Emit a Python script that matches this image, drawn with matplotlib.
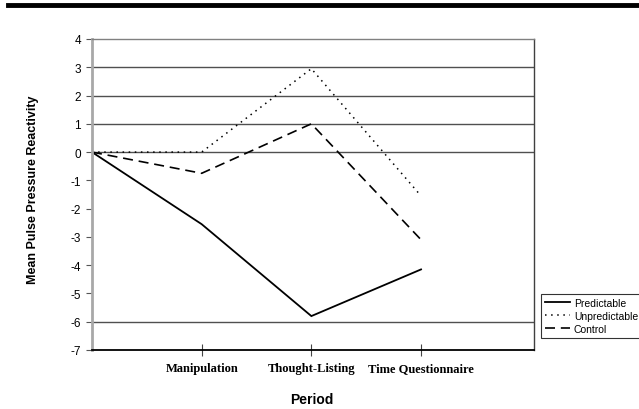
import matplotlib.pyplot as plt
from matplotlib.lines import Line2D
import numpy as np

# data
periods = ['', 'Manipulation', 'Thought-Listing', 'Time Questionnaire']
predictable = [0, -2.55, -5.8, -4.15]
unpredictable = [0, 0, 2.95, -1.55]
control = [0, -0.75, 1.0, -3.1]
yticks = [4, 3, 2, 1, 0, -1, -2, -3, -4, -5, -6, -7]
gridvals = [3, 2, 1, 0, -6]   # only these gridlines show in the original

W, H = 639, 410
fig = plt.figure(figsize=(W/100, H/100), dpi=100)
ax = fig.add_axes([92/W, 1-351/H, (534-92)/W, (351-40)/H])

x = np.arange(len(periods))
ax.plot(x, predictable, color='black', lw=1.3, ls='-', label='Predictable',
        solid_joinstyle='miter')
ax.plot(x, unpredictable, color='black', lw=1.1, ls=(0, (1, 3)), label='Unpredictable')
ax.plot(x, control, color='black', lw=1.2, ls=(0, (6, 3.5)), label='Control')

for g in gridvals:
    ax.axhline(g, color='#505050', lw=1, zorder=0)

ax.set_xlim(0, 4.03)
ax.set_ylim(-7, 4)
ax.set_yticks(yticks)
ax.set_yticklabels([str(v) for v in yticks], family='Liberation Sans', fontsize=8.5)
ax.set_xticks(x[1:])
ax.set_xticklabels(periods[1:], family='Liberation Serif', fontweight='bold', fontsize=9)
ax.tick_params(axis='x', direction='inout', length=8, width=0.8, color='#444', pad=5)
ax.tick_params(axis='y', direction='out', length=4, width=0.8, color='#555', pad=4)

ax.spines['left'].set_color('#a8a8a8')
ax.spines['left'].set_linewidth(2)
ax.spines['top'].set_color('#808080')
ax.spines['top'].set_linewidth(1)
ax.spines['right'].set_color('#404040')
ax.spines['right'].set_linewidth(1)
ax.spines['bottom'].set_color('black')
ax.spines['bottom'].set_linewidth(1.3)

fig.text(312/W, 1-400/H, 'Period', ha='center', va='center',
         family='Liberation Sans', fontweight='bold', fontsize=10)
fig.text(33/W, 1-190/H, 'Mean Pulse Pressure Reactivity', ha='center', va='center',
         rotation=90, family='Liberation Sans', fontweight='bold', fontsize=9)

# thick rule across the top
fig.add_artist(Line2D([8/W, 1], [1-6/H, 1-6/H], color='black', lw=3.5))

# legend runs off the right edge, as in the original
leg = fig.legend(loc='upper left', bbox_to_anchor=(541/W, 1-295/H),
                 prop={'family': 'Liberation Sans', 'size': 7.5},
                 frameon=True, fancybox=False, handlelength=2.4,
                 handletextpad=0.4, labelspacing=0.3, borderpad=0.35,
                 borderaxespad=0)
leg.get_frame().set_edgecolor('black')
leg.get_frame().set_linewidth(0.8)

plt.savefig('out.png', dpi=100)
